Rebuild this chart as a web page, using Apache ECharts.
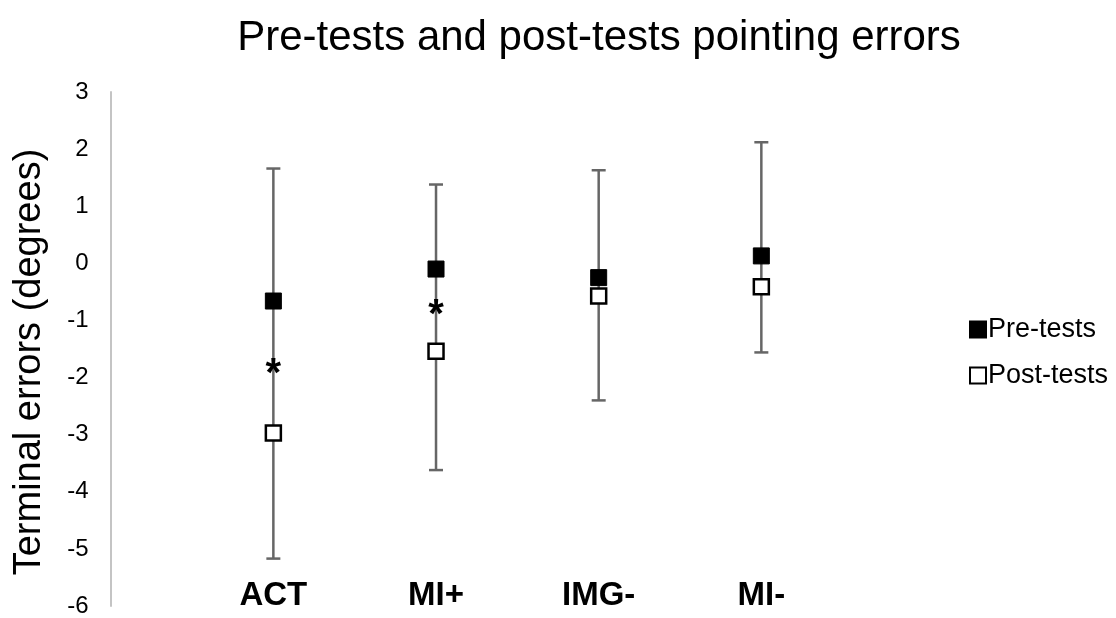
<!DOCTYPE html>
<html>
<head>
<meta charset="utf-8">
<title>Pre-tests and post-tests pointing errors</title>
<script src="https://cdn.jsdelivr.net/npm/echarts@6/dist/echarts.min.js"></script>
<style>
    html, body {margin: 0; padding: 0; background: #fff;}
    #main {width: 1116px; height: 618px;}
</style>
</head>
<body>
<div id="main"></div>
<script>
// categories (blank slots at both ends so the groups sit at 1..4 like the excel plot)
var categories = ['', 'ACT', 'MI+', 'IMG-', 'MI-', ''];
var groups = ['ACT', 'MI+', 'IMG-', 'MI-'];

// means
var preTests = [-0.66, -0.10, -0.25, 0.13];
var postTests = [-2.97, -1.54, -0.57, -0.41];

// error bar ends
var barHigh = [1.66, 1.38, 1.63, 2.12];
var barLow = [-5.17, -3.62, -2.40, -1.56];

// significance markers (*)
var starY = [-1.78, -0.75, null, null];

var yTicks = [-6, -5, -4, -3, -2, -1, 0, 1, 2, 3];

var font = 'Arial, "Liberation Sans", sans-serif';

var myChart = echarts.init(document.getElementById('main'));

var preData = [], postData = [], barData = [], starData = [];
for (var i = 0; i < groups.length; i++) {
    preData.push([groups[i], preTests[i]]);
    postData.push([groups[i], postTests[i]]);
    barData.push([groups[i], barLow[i], barHigh[i]]);
    if (starY[i] !== null) starData.push([groups[i], starY[i]]);
}

var option = {
    backgroundColor: '#fff',
    animation: false,
    title: {
        text: 'Pre-tests and post-tests pointing errors',
        left: 594,
        textAlign: 'center',
        top: 12,
        textStyle: {
            fontFamily: font,
            fontSize: 42,
            fontWeight: 'normal',
            color: '#000'
        }
    },
    legend: {
        data: ['Pre-tests', 'Post-tests'],
        orient: 'vertical',
        left: 964,
        top: 311,
        itemWidth: 16,
        itemHeight: 16,
        itemGap: 19,
        icon: 'rect',
        textStyle: {
            fontFamily: font,
            fontSize: 27,
            color: '#000',
            padding: [0, 0, 0, -3]
        }
    },
    grid: {
        left: 110.7,
        right: 192,
        top: 92,
        bottom: 10
    },
    xAxis: {
        type: 'category',
        data: categories,
        boundaryGap: false,
        axisLine: {show: false},
        axisTick: {show: false},
        splitLine: {show: false},
        axisLabel: {
            interval: 0,
            margin: -10,
            verticalAlign: 'middle',
            fontFamily: font,
            fontSize: 33,
            fontWeight: 'bold',
            color: '#000'
        }
    },
    yAxis: {
        type: 'value',
        min: yTicks[0],
        max: yTicks[yTicks.length - 1],
        interval: 1,
        name: 'Terminal errors (degrees)',
        nameLocation: 'middle',
        nameGap: 62,
        nameTextStyle: {
            fontFamily: font,
            fontSize: 38,
            color: '#000',
            padding: [0, 26, 0, 0]
        },
        axisLine: {show: true, lineStyle: {color: '#c4c4c4', width: 2}},
        axisTick: {show: false},
        splitLine: {show: false},
        axisLabel: {
            margin: 22,
            fontFamily: font,
            fontSize: 24,
            color: '#000'
        }
    },
    series: [
        {
            name: 'errorbar',
            type: 'custom',
            z: 1,
            data: barData,
            renderItem: function (params, api) {
                var x = api.value(0);
                var lo = api.coord([x, api.value(1)]);
                var hi = api.coord([x, api.value(2)]);
                var w = 7;
                var st = {stroke: '#666', lineWidth: 2.5};
                return {
                    type: 'group',
                    children: [
                        {type: 'line', shape: {x1: hi[0], y1: hi[1], x2: lo[0], y2: lo[1]}, style: st},
                        {type: 'line', shape: {x1: hi[0] - w, y1: hi[1], x2: hi[0] + w, y2: hi[1]}, style: st},
                        {type: 'line', shape: {x1: lo[0] - w, y1: lo[1], x2: lo[0] + w, y2: lo[1]}, style: st}
                    ]
                };
            }
        },
        {
            name: 'Pre-tests',
            type: 'scatter',
            z: 3,
            symbol: 'rect',
            symbolSize: 16,
            itemStyle: {color: '#000', borderColor: '#000', borderWidth: 1, opacity: 1},
            data: preData
        },
        {
            name: 'Post-tests',
            type: 'scatter',
            z: 3,
            symbol: 'rect',
            symbolSize: 15,
            itemStyle: {color: '#fff', borderColor: '#000', borderWidth: 2.5, opacity: 1},
            data: postData
        },
        {
            name: 'sig',
            type: 'scatter',
            z: 3,
            symbolSize: 0,
            silent: true,
            itemStyle: {opacity: 1},
            label: {
                show: true,
                position: 'inside',
                formatter: '*',
                offset: [0, 10],
                fontFamily: font,
                fontSize: 40,
                fontWeight: 'bold',
                color: '#000',
                opacity: 1
            },
            data: starData
        }
    ]
};

myChart.setOption(option);
</script>
</body>
</html>
